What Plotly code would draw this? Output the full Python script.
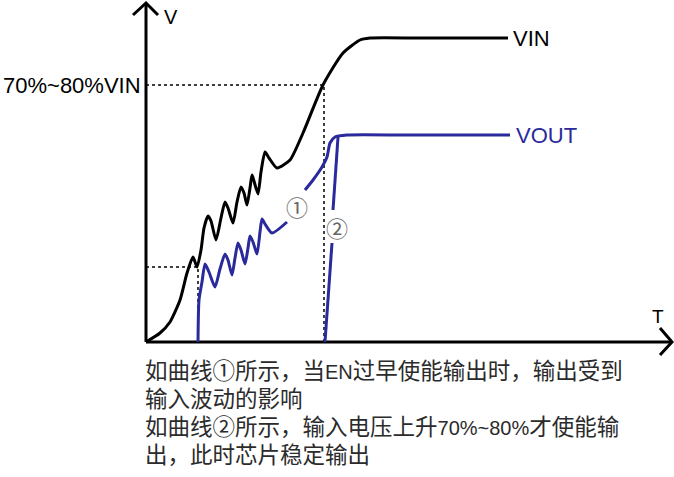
import plotly.graph_objects as go

# schematic units: T and V measured from the axes origin
vin_t = [0, 14, 24, 34, 41, 47, 51, 55, 58, 62, 65, 70, 75, 79, 82, 87, 91, 95, 98, 101,
         104, 106, 108, 112, 115, 119, 123, 131, 144, 157, 177, 197, 214, 224, 274, 362]
vin_v = [0, 9, 20, 42, 69, 85, 75, 92, 114, 126, 121, 102, 124, 140, 134, 119, 140, 155, 149, 137,
         154, 167, 161, 148, 170, 190, 184, 174, 182, 209, 257, 289, 302, 304, 304, 304]

# curve 1: EN enabled too early (broken where the label sits)
vout1a_t = [52, 53, 56, 59, 63, 69, 74, 79, 82, 86, 89, 92, 95, 99, 102, 104, 107, 111, 114, 116, 119, 126, 141]
vout1a_v = [0, 42, 60, 78, 70, 55, 73, 88, 82, 67, 84, 99, 92, 78, 94, 106, 100, 88, 110, 123, 118, 109, 120]
vout1b_t = [159, 167, 176, 181, 184, 189, 201, 260, 364]
vout1b_v = [152, 162, 175, 185, 199, 205, 207, 207, 207]

# curve 2: enabled after VIN reaches 70%~80%
vout2a_t = [179, 186]
vout2a_v = [0, 99]
vout2b_t = [187, 192]
vout2b_v = [132, 205]

t_early, v_early = 52, 75
t_late, v_late = 178, 257

LAT = "<span style=\"font-family:'Liberation Sans';font-size:20px\">%s</span>"
notes = [
    "如曲线①所示，当" + LAT % "EN" + "过早使能输出时，输出受到",
    "输入波动的影响",
    "如曲线②所示，输入电压上升" + LAT % "70%~80%" + "才使能输",
    "出，此时芯片稳定输出",
]

BLUE = "#2a2a9c"
fig = go.Figure()

# dotted guides
for xs, ys in [([0, t_late, t_late], [v_late, v_late, 0]),
               ([0, t_early, t_early], [v_early, v_early, 0])]:
    fig.add_trace(go.Scatter(x=xs, y=ys, mode="lines",
                             line=dict(color="black", width=1.5, dash="dot")))

# axes with arrow heads
fig.add_trace(go.Scatter(x=[0, 0, None, -13, 0, 12], y=[0, 339, None, 327, 339, 327],
                         mode="lines", line=dict(color="black", width=3)))
fig.add_trace(go.Scatter(x=[0, 526, None, 514, 526, 514], y=[0, 0, None, 14, 0, -13],
                         mode="lines", line=dict(color="black", width=3)))

fig.add_trace(go.Scatter(x=vin_t, y=vin_v, mode="lines",
                         line=dict(color="black", width=3, shape="spline", smoothing=0.6)))
for xs, ys in [(vout1a_t, vout1a_v), (vout1b_t, vout1b_v),
               (vout2a_t, vout2a_v), (vout2b_t, vout2b_v)]:
    fig.add_trace(go.Scatter(x=xs, y=ys, mode="lines",
                             line=dict(color=BLUE, width=3, shape="spline", smoothing=0.6)))

lab = dict(family="Liberation Sans, Arial", size=22, color="black")
fig.add_annotation(x=-3, y=v_late, text="70%~80%VIN", xanchor="right", font=dict(lab, size=22))
fig.add_annotation(x=16, y=325, text="V", xanchor="left", font=dict(lab, size=20))
fig.add_annotation(x=512, y=26, text="T", font=dict(lab, size=19))
fig.add_annotation(x=365, y=304, text="VIN", xanchor="left", font=lab)
fig.add_annotation(x=368, y=207, text="VOUT", xanchor="left", font=dict(lab, color=BLUE))
fig.add_annotation(x=151, y=136, text="①", font=dict(family="Noto Sans CJK SC", size=22, color="#666666"))
fig.add_annotation(x=191, y=115, text="②", font=dict(family="Noto Sans CJK SC", size=22, color="#666666"))

for i, line in enumerate(notes):
    fig.add_annotation(x=-3, y=-27 - 28 * i, text=line, xanchor="left", height=28,
                       font=dict(family="Noto Sans CJK SC", size=22.5, color="#2b2b2b"))

for a in fig.layout.annotations:
    a.showarrow = False

fig.update_layout(
    width=674, height=477, showlegend=False,
    margin=dict(l=0, r=0, t=0, b=0),
    paper_bgcolor="white", plot_bgcolor="white",
    xaxis=dict(range=[-146, 528], visible=False),
    yaxis=dict(range=[-135, 342], visible=False),
)
fig.write_html("out.html", config={"displayModeBar": False},
               post_script="document.body.style.margin='0px';")
